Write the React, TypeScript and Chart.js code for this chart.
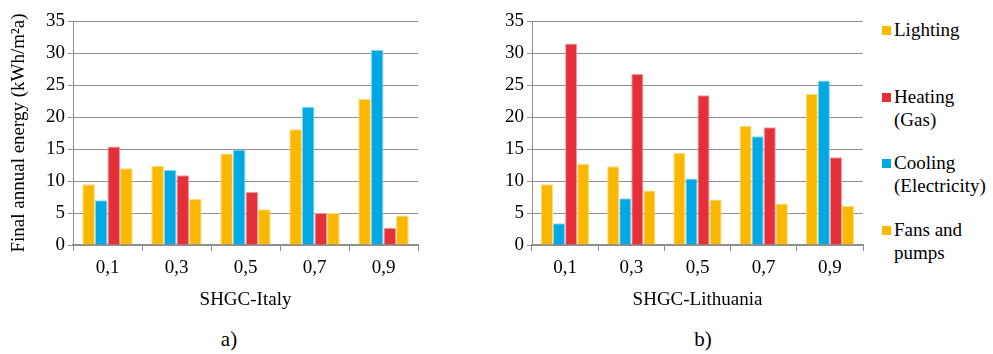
import React, { useEffect, useRef } from 'react';
import { Chart, registerables } from 'chart.js';

Chart.register(...registerables);

// SHGC levels on the category axis
const shgcLevels = ['0,1', '0,3', '0,5', '0,7', '0,9'];

// Final annual energy, kWh/m²a — Italy
const italyLighting = [9.5, 12.4, 14.3, 18.1, 22.8];
const italyCooling = [7.0, 11.7, 14.9, 21.6, 30.5];
const italyHeating = [15.4, 10.9, 8.3, 5.0, 2.7];
const italyFans = [12.0, 7.2, 5.6, 5.0, 4.6];

// Final annual energy, kWh/m²a — Lithuania
const lithuaniaLighting = [9.5, 12.3, 14.4, 18.6, 23.6];
const lithuaniaCooling = [3.4, 7.3, 10.4, 17.0, 25.7];
const lithuaniaHeating = [31.5, 26.7, 23.4, 18.4, 13.7];
const lithuaniaFans = [12.7, 8.5, 7.1, 6.5, 6.1];

const seriesNames = ['Lighting', 'Cooling (Electricity)', 'Heating (Gas)', 'Fans and pumps'];
const legendLines = [['Lighting'], ['Heating', '(Gas)'], ['Cooling', '(Electricity)'], ['Fans and', 'pumps']];

const YELLOW = '#FBB800';
const BLUE = '#00A8E4';
const RED = '#E5303A';
const GRID = '#8f8f8f';
const FONT = '"Liberation Serif", "Times New Roman", serif';

const barFill = [YELLOW, BLUE, RED, YELLOW];
const barEdge = ['#FDDB80', '#8ED6F2', '#F29A9E', '#FDDB80'];
const legendColors = [YELLOW, RED, BLUE, YELLOW];

type PanelProps = {
  left: number;
  width: number;
  height: number;
  axisWidth: number;
  padRight: number;
  series: number[][];
  xTitle: string;
  yTitle?: string;
};

function BarPanel({ left, width, height, axisWidth, padRight, series, xTitle, yTitle }: PanelProps) {
  const ref = useRef<HTMLCanvasElement | null>(null);

  useEffect(() => {
    if (!ref.current) return;
    const chart = new Chart(ref.current, {
      type: 'bar',
      data: {
        labels: shgcLevels,
        datasets: series.map((values, i) => ({
          label: seriesNames[i],
          data: values,
          backgroundColor: barFill[i],
          borderColor: barEdge[i],
          borderWidth: 1,
          categoryPercentage: 0.73,
          barPercentage: 1,
        })),
      },
      options: {
        responsive: false,
        animation: false,
        devicePixelRatio: 1,
        layout: { padding: { top: 21, right: padRight, bottom: 0, left: 0 } },
        plugins: { legend: { display: false }, tooltip: { enabled: false } },
        scales: {
          x: {
            grid: { display: true, drawOnChartArea: false, offset: true, tickLength: 6, color: GRID, lineWidth: 1 },
            border: { display: true, color: GRID, width: 2 },
            ticks: { color: '#000', padding: 6, font: { family: FONT, size: 19 } },
            title: {
              display: true,
              text: xTitle,
              color: '#000',
              font: { family: FONT, size: 19 },
              padding: { top: 0, bottom: 9 },
            },
            afterFit: (scale: any) => {
              scale.height = 75;
            },
          },
          y: {
            min: 0,
            max: 35,
            ticks: { stepSize: 5, color: '#000', padding: 3, font: { family: FONT, size: 19 } },
            grid: { color: GRID, lineWidth: 1, tickLength: 5 },
            border: { display: true, color: GRID, width: 1 },
            title: {
              display: !!yTitle,
              text: yTitle || '',
              color: '#000',
              font: { family: FONT, size: 19 },
              padding: { top: 8, bottom: 0 },
            },
            afterFit: (scale: any) => {
              scale.width = axisWidth;
            },
          },
        },
      },
    });
    return () => chart.destroy();
  }, []);

  return (
    <canvas
      ref={ref}
      width={width}
      height={height}
      style={{ position: 'absolute', left, top: 0, width, height }}
    />
  );
}

function Legend() {
  return (
    <div style={{ position: 'absolute', left: 882, top: 18, fontFamily: FONT, fontSize: 19, color: '#000' }}>
      {legendLines.map((lines, i) => (
        <div
          key={i}
          style={{ position: 'absolute', left: 0, top: i * 66.5, width: 120, lineHeight: '23px' }}
        >
          <span
            style={{ position: 'absolute', left: 0, top: 8, width: 9, height: 9, background: legendColors[i] }}
          />
          {lines.map((t, j) => (
            <div key={j} style={{ marginLeft: 12, whiteSpace: 'nowrap' }}>
              {t}
            </div>
          ))}
        </div>
      ))}
    </div>
  );
}

export default function App() {
  const caption: React.CSSProperties = {
    position: 'absolute',
    top: 326,
    fontFamily: FONT,
    fontSize: 21,
    color: '#000',
    lineHeight: '26px',
    transform: 'translateX(-50%)',
  };
  return (
    <div
      style={{ position: 'fixed', left: 0, top: 0, width: 993, height: 354, background: '#fff', overflow: 'hidden' }}
    >
      <BarPanel
        left={0}
        width={425}
        height={320}
        axisWidth={73}
        padRight={7}
        series={[italyLighting, italyCooling, italyHeating, italyFans]}
        xTitle="SHGC-Italy"
        yTitle="Final annual energy (kWh/m²a)"
      />
      <BarPanel
        left={480}
        width={390}
        height={320}
        axisWidth={52}
        padRight={7}
        series={[lithuaniaLighting, lithuaniaCooling, lithuaniaHeating, lithuaniaFans]}
        xTitle="SHGC-Lithuania"
      />
      <Legend />
      <div style={{ ...caption, left: 229 }}>a)</div>
      <div style={{ ...caption, left: 703 }}>b)</div>
    </div>
  );
}
